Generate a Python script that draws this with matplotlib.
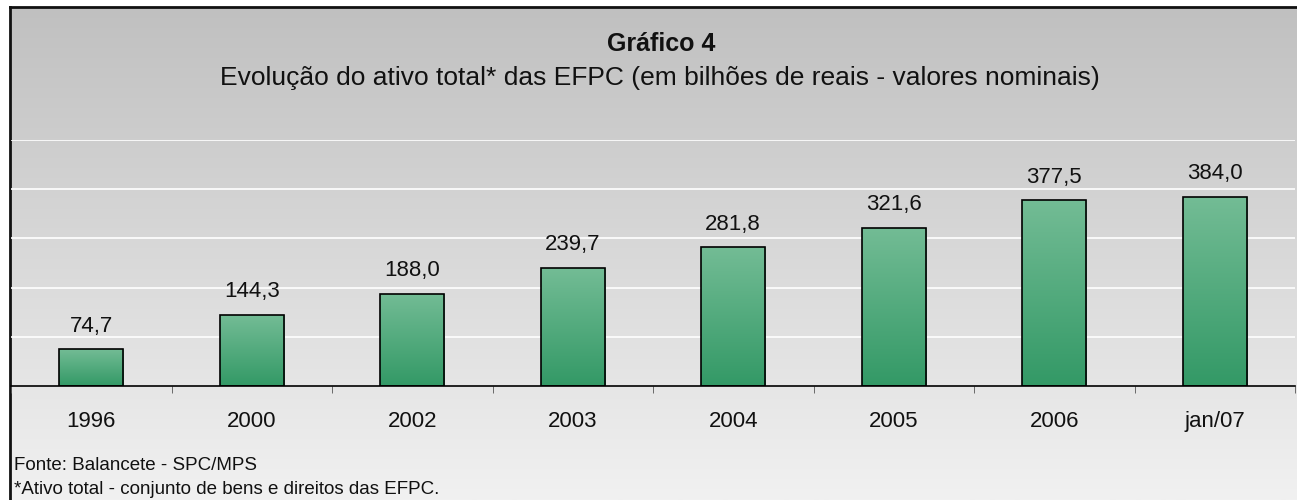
from matplotlib import pyplot as plt
from matplotlib.colors import LinearSegmentedColormap
import numpy as np

categories = ['1996', '2000', '2002', '2003', '2004', '2005', '2006', 'jan/07']
values = [74.7, 144.3, 188.0, 239.7, 281.8, 321.6, 377.5, 384.0]
labels = ['74,7', '144,3', '188,0', '239,7', '281,8', '321,6', '377,5', '384,0']

plt.rcParams['font.family'] = ['Liberation Sans', 'DejaVu Sans']

W, H = 1297, 500
fig = plt.figure(figsize=(W / 100, H / 100), dpi=100)

# background gradient for the whole frame (starts at the black border)
bg = fig.add_axes([10 / W, 0, 1 - 10 / W, 1 - 7 / H], zorder=0)
grad = np.linspace(0, 1, 256).reshape(-1, 1)
bg_cmap = LinearSegmentedColormap.from_list('bg', ['#c0c0c0', '#f1f1f1'])
bg.imshow(grad, aspect='auto', cmap=bg_cmap, extent=[0, 1, 0, 1], origin='upper')
bg.set_xlim(0, 1)
bg.set_ylim(0, 1)
for s in ['right', 'bottom']:
    bg.spines[s].set_visible(False)
for s in ['top', 'left']:
    bg.spines[s].set_linewidth(2)
    bg.spines[s].set_color('#111111')
bg.set_xticks([])
bg.set_yticks([])

ax = fig.add_axes([11 / W, (H - 386) / H, 1284 / W, 246 / H], zorder=1)
ax.patch.set_alpha(0)

x = np.arange(len(categories))
bars = ax.bar(x, values, width=0.4, color='none', edgecolor='black', linewidth=1.2, zorder=3)

bar_cmap = LinearSegmentedColormap.from_list('bar', ['#73bc95', '#339966'])
for b in bars:
    bx, by = b.get_x(), b.get_y()
    bw, bh = b.get_width(), b.get_height()
    im = ax.imshow(grad, aspect='auto', cmap=bar_cmap, origin='upper',
                   extent=[bx, bx + bw, by, by + bh], zorder=2)
    im.set_clip_path(b)

for xi, v, lab in zip(x, values, labels):
    ax.text(xi, v + 36, lab, ha='center', va='baseline', fontsize=16, color='#111111')

ax.set_xlim(-0.5, len(categories) - 0.5)
ax.set_ylim(0, 500)
ax.set_yticks([100, 200, 300, 400, 500])
ax.yaxis.grid(True, color='white', linewidth=1.2)
ax.set_axisbelow(True)
ax.tick_params(axis='y', left=False, labelleft=False)

ax.set_xticks(x)
ax.set_xticklabels(categories, fontsize=16, color='#111111')
ax.tick_params(axis='x', length=0, pad=18)
ax.set_xticks(np.arange(len(categories) + 1) - 0.5, minor=True)
ax.tick_params(axis='x', which='minor', length=5, color='#555555')

for s in ['top', 'right', 'left']:
    ax.spines[s].set_visible(False)
ax.spines['bottom'].set_color('black')
ax.spines['bottom'].set_linewidth(1.2)

fig.text(661 / W, 1 - 44 / H, 'Gráfico 4', ha='center', va='center',
         fontsize=18, fontweight='bold', color='#111111')
fig.text(660 / W, 1 - 78 / H,
         'Evolução do ativo total* das EFPC (em bilhões de reais - valores nominais)',
         ha='center', va='center', fontsize=19, color='#111111')

fig.text(14 / W, 1 - 470 / H, 'Fonte: Balancete - SPC/MPS', ha='left', va='baseline',
         fontsize=13.5, color='#111111')
fig.text(14 / W, 1 - 494 / H, '*Ativo total - conjunto de bens e direitos das EFPC.',
         ha='left', va='baseline', fontsize=13.5, color='#111111')

fig.savefig('out.png', dpi=100)
